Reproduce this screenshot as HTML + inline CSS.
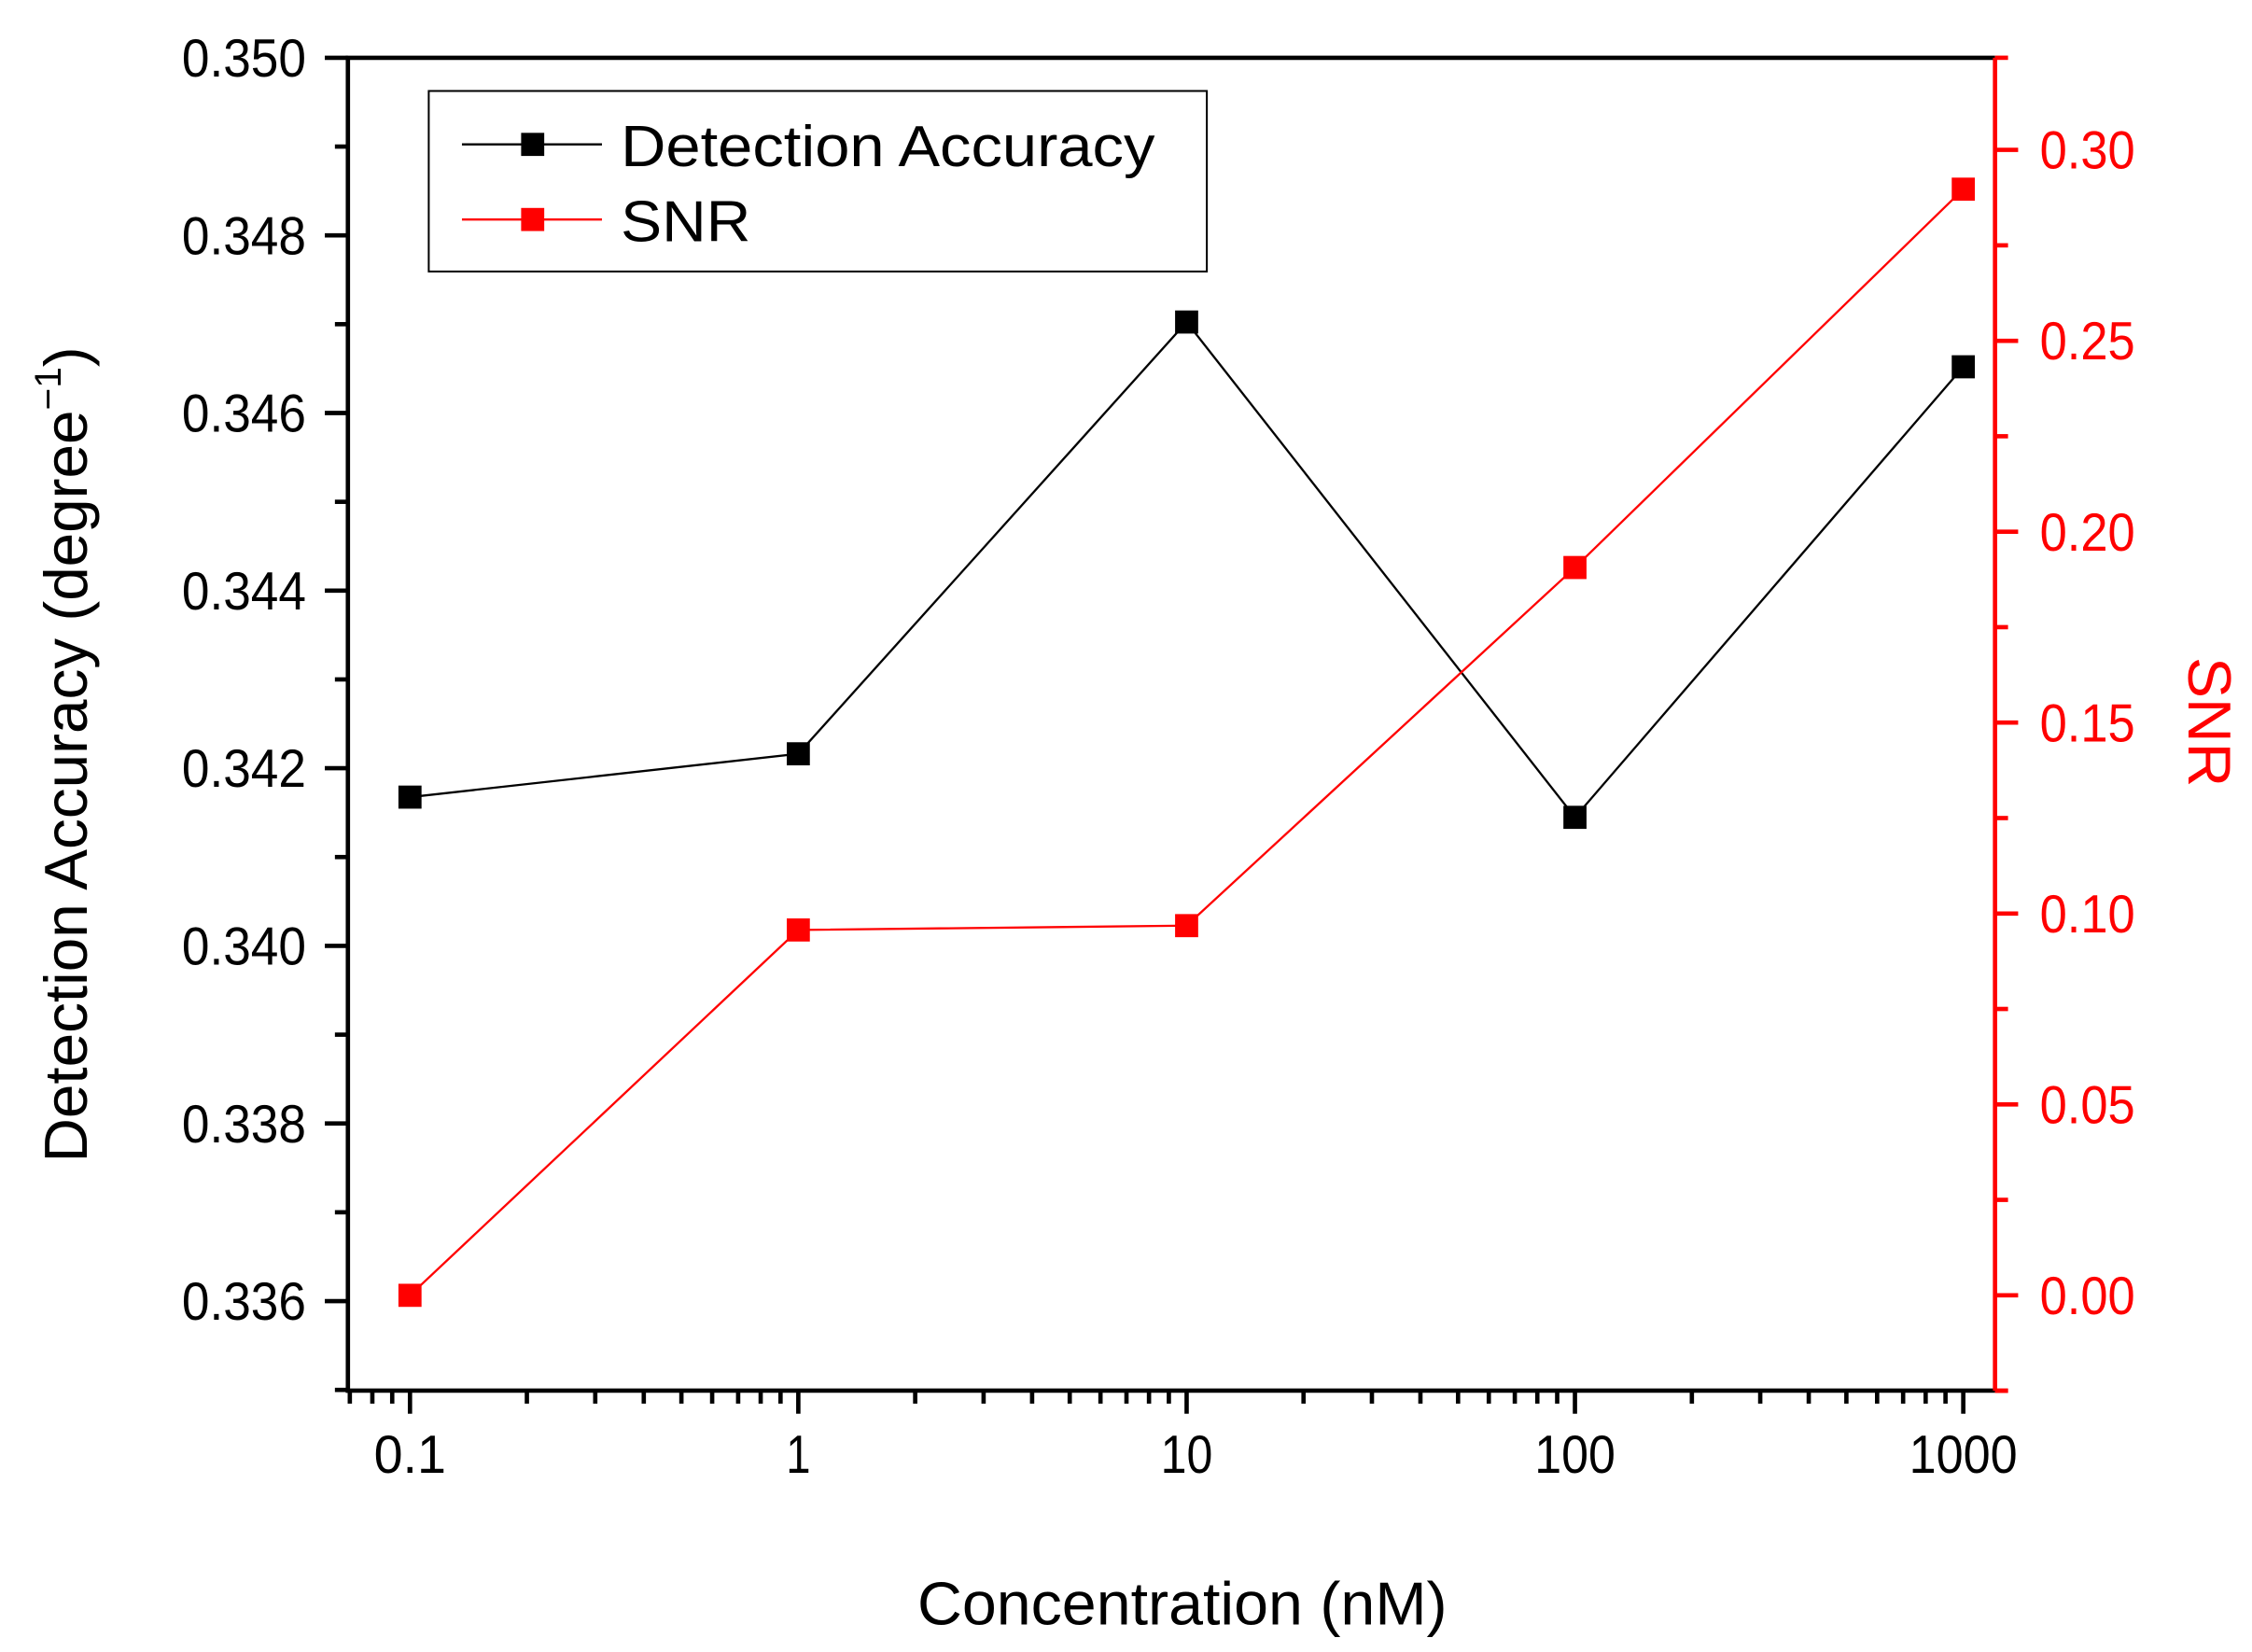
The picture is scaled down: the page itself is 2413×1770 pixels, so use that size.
<!DOCTYPE html>
<html><head><meta charset="utf-8"><style>
html,body{margin:0;padding:0;background:#fff;}
svg{display:block;}
text{font-family:"Liberation Sans Narrow","Liberation Sans",sans-serif;}
</style></head><body>
<svg id="s" width="2413" height="1770" viewBox="0 0 1560 1144" preserveAspectRatio="none" xmlns="http://www.w3.org/2000/svg">
<rect width="1560" height="1144" fill="#fff"/>
<g id="g"></g>
<rect x="297" y="63" width="539" height="125" fill="none" stroke="#000" stroke-width="1.3"/>
<line x1="320" y1="100" x2="417" y2="100" stroke="#000" stroke-width="1.5"/>
<rect x="361" y="92" width="16" height="16" fill="#000"/>
<text x="430" y="115" font-size="40" textLength="370" lengthAdjust="spacingAndGlyphs">Detection Accuracy</text>
<line x1="320" y1="152" x2="417" y2="152" stroke="#f00" stroke-width="1.5"/>
<rect x="361" y="144" width="16" height="16" fill="#f00"/>
<text x="430" y="167" font-size="40" textLength="90" lengthAdjust="spacingAndGlyphs">SNR</text>
<text x="819" y="1125" font-size="42" text-anchor="middle" textLength="367" lengthAdjust="spacingAndGlyphs">Concentration (nM)</text>
<text transform="translate(60,805) rotate(-90)" font-size="42" textLength="565" lengthAdjust="spacingAndGlyphs">Detection Accuracy (degree<tspan dy="-18" font-size="26">−1</tspan><tspan dy="18">)</tspan></text>
<text transform="translate(1516,455) rotate(90)" font-size="42" fill="#f00" textLength="90" lengthAdjust="spacingAndGlyphs">SNR</text>
</svg>
<script>
var g=document.getElementById('g'),h='';
var L=241,R=1382,T=40,B=963;
function X(v){return 284+269*Math.log10(v/0.1);}
function YL(v){return 40+(0.350-v)/0.002*123;}
function YR(v){return 897-(v/0.05)*132.2;}
function ln(a,b,c,d,col,w){h+='<line x1="'+a+'" y1="'+b+'" x2="'+c+'" y2="'+d+'" stroke="'+col+'" stroke-width="'+w+'"/>';}
function tx(x,y,s,col,anc,tl){h+='<text x="'+x+'" y="'+y+'" font-size="37" fill="'+col+'" text-anchor="'+anc+'" textLength="'+tl+'" lengthAdjust="spacingAndGlyphs">'+s+'</text>';}
ln(L,T,L,B+1.5,'#000',3);ln(L-1.5,T,R,T,'#000',3);ln(L-1.5,B,R,B,'#000',3);
for(var i=0;i<=15;i++){var v=0.350-i*0.001,y=YL(v);if(y>B+1)break;
 if(i%2==0){ln(L-16,y,L,y,'#000',3);tx(212,y+13,v.toFixed(3),'#000','end',86);}else ln(L-9,y,L,y,'#000',3);}
ln(R,T,R,B,'#f00',3);
for(var i=-1;i<=13;i++){var v=i*0.025,y=YR(v);if(y<T-1||y>B+1)continue;
 if(i%2==0){ln(R,y,R+16,y,'#f00',3);tx(1413,y+13,v.toFixed(2),'#f00','start',66);}else ln(R,y,R+9,y,'#f00',3);}
ln(R,T,R+9,T,'#f00',3);ln(R,B,R+9,B,'#f00',3);
var labs=['0.1','1','10','100','1000'],tls=[50,17,36,56,75];
for(var d=0;d<5;d++){var base=0.1*Math.pow(10,d),x=X(base);ln(x,B,x,B+16,'#000',3);tx(x,1020,labs[d],'#000','middle',tls[d]);
 if(d<4)for(var k=2;k<=9;k++){var xx=X(base*k);ln(xx,B,xx,B+9,'#000',3);}}
for(var k=7;k<=9;k++){var xx=X(0.01*k);if(xx>L)ln(xx,B,xx,B+9,'#000',3);}
var xs=[0.1,1,10,100,1000];
var blk=[552,522,223,566,254],red=[897,644,641,393,131];
function ser(ys,col){var p='';for(var i=0;i<5;i++)p+=(i?'L':'M')+X(xs[i])+' '+ys[i];
 h+='<path d="'+p+'" fill="none" stroke="'+col+'" stroke-width="1.5"/>';
 for(var i=0;i<5;i++)h+='<rect x="'+(X(xs[i])-8)+'" y="'+(ys[i]-8)+'" width="16" height="16" fill="'+col+'"/>';}
ser(blk,'#000');ser(red,'#f00');
g.innerHTML=h;
</script>
</body></html>
